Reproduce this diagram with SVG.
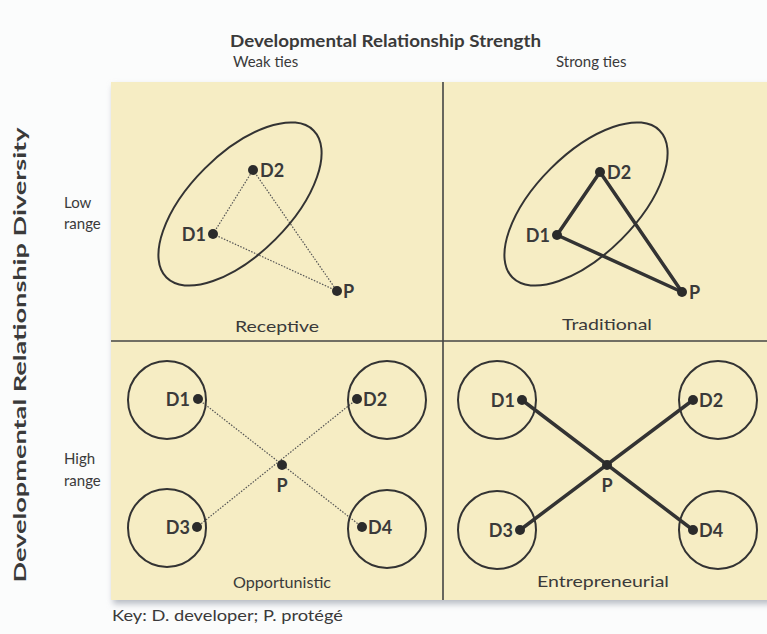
<svg xmlns="http://www.w3.org/2000/svg" width="767" height="634" viewBox="0 0 767 634">
<style>
text{font-family:Lato,"Open Sans","Liberation Sans",sans-serif;fill:#3a3a3a}
.t{font-weight:bold;font-size:17px}
.h{font-size:15px}
.n{font-weight:bold;font-size:18px}
.q{font-size:16px}
.div{stroke:#444;stroke-width:1.6;fill:none}
.ring{stroke:#333;stroke-width:2;fill:none}
.weak{stroke:#555;stroke-width:1.2;stroke-dasharray:1.5 1.5;fill:none}
.strong{stroke:#333;stroke-width:3.5;fill:none;stroke-linecap:round}
.dot{fill:#2b2b2b}
</style>
<defs>
<filter id="sh" x="-5%" y="-5%" width="110%" height="115%"><feGaussianBlur stdDeviation="3"/></filter>
</defs>
<rect width="767" height="634" fill="#fbfcfc"/>
<rect x="113" y="86" width="660" height="518" fill="#b8bcc4" filter="url(#sh)"/>
<rect x="111" y="82" width="660" height="518" fill="#f6edc4"/>
<g id="axes">
<text class="t" x="230" y="47" textLength="311" lengthAdjust="spacingAndGlyphs">Developmental Relationship Strength</text>
<text class="h" x="233" y="67">Weak ties</text>
<text class="h" x="556" y="67">Strong ties</text>
<text class="t" transform="translate(26,355) rotate(-90)" text-anchor="middle" textLength="455" lengthAdjust="spacingAndGlyphs">Developmental Relationship Diversity</text>
<text class="h" x="64" y="208">Low</text>
<text class="h" x="64" y="229">range</text>
<text class="h" x="64" y="464">High</text>
<text class="h" x="64" y="486">range</text>
<text class="h" x="112" y="621" textLength="231" lengthAdjust="spacingAndGlyphs">Key: D. developer;  P. protégé</text>
</g>
<g id="dividers">
<line class="div" x1="443" y1="82" x2="443" y2="600"/>
<line class="div" x1="111" y1="341" x2="767" y2="341"/>
</g>
<g id="connectors">
<line class="weak" x1="213" y1="234" x2="253" y2="170"/>
<line class="weak" x1="253" y1="170" x2="337" y2="291"/>
<line class="weak" x1="213" y1="234" x2="337" y2="291"/>
<line class="strong" x1="557" y1="235" x2="600" y2="172"/>
<line class="strong" x1="600" y1="172" x2="682" y2="292"/>
<line class="strong" x1="557" y1="235" x2="682" y2="292"/>
<line class="weak" x1="198" y1="399" x2="362" y2="527"/>
<line class="weak" x1="357" y1="399" x2="197" y2="527"/>
<line class="strong" x1="522" y1="400" x2="693" y2="530"/>
<line class="strong" x1="693" y1="400" x2="520" y2="530"/>
</g>
<g id="receptive">
<ellipse class="ring" cx="240" cy="204" rx="104" ry="50" transform="rotate(-45 240 204)"/>
<circle class="dot" cx="253" cy="170" r="5"/><text class="n" x="260" y="177">D2</text>
<circle class="dot" cx="213" cy="234" r="5"/><text class="n" x="206" y="241" text-anchor="end">D1</text>
<circle class="dot" cx="337" cy="291" r="5"/><text class="n" x="343" y="298">P</text>
<text class="q" x="277" y="332" text-anchor="middle" textLength="84" lengthAdjust="spacingAndGlyphs">Receptive</text>
</g>
<g id="traditional">
<ellipse class="ring" cx="586" cy="204" rx="104" ry="50" transform="rotate(-45 586 204)"/>
<circle class="dot" cx="600" cy="172" r="5"/><text class="n" x="607" y="179">D2</text>
<circle class="dot" cx="557" cy="235" r="5"/><text class="n" x="550" y="242" text-anchor="end">D1</text>
<circle class="dot" cx="682" cy="292" r="5"/><text class="n" x="689" y="299">P</text>
<text class="q" x="607" y="330" text-anchor="middle" textLength="90" lengthAdjust="spacingAndGlyphs">Traditional</text>
</g>
<g id="opportunistic">
<circle class="ring" cx="167" cy="400" r="39"/>
<circle class="ring" cx="387" cy="400" r="39"/>
<circle class="ring" cx="167" cy="528" r="39"/>
<circle class="ring" cx="387" cy="529" r="39"/>
<circle class="dot" cx="198" cy="399" r="5"/><text class="n" x="190" y="406" text-anchor="end">D1</text>
<circle class="dot" cx="357" cy="399" r="5"/><text class="n" x="363" y="406">D2</text>
<circle class="dot" cx="197" cy="527" r="5"/><text class="n" x="190" y="534" text-anchor="end">D3</text>
<circle class="dot" cx="362" cy="527" r="5"/><text class="n" x="368" y="534">D4</text>
<circle class="dot" cx="282" cy="465" r="5"/><text class="n" x="282" y="492" text-anchor="middle">P</text>
<text class="q" x="282" y="588" text-anchor="middle" textLength="98" lengthAdjust="spacingAndGlyphs">Opportunistic</text>
</g>
<g id="entrepreneurial">
<circle class="ring" cx="497" cy="400" r="39"/>
<circle class="ring" cx="718" cy="400" r="39"/>
<circle class="ring" cx="497" cy="530" r="39"/>
<circle class="ring" cx="718" cy="530" r="39"/>
<circle class="dot" cx="522" cy="400" r="5"/><text class="n" x="515" y="407" text-anchor="end">D1</text>
<circle class="dot" cx="693" cy="400" r="5"/><text class="n" x="699" y="407">D2</text>
<circle class="dot" cx="520" cy="530" r="5"/><text class="n" x="513" y="537" text-anchor="end">D3</text>
<circle class="dot" cx="693" cy="530" r="5"/><text class="n" x="699" y="537">D4</text>
<circle class="dot" cx="607" cy="465" r="5"/><text class="n" x="607" y="492" text-anchor="middle">P</text>
<text class="q" x="603" y="587" text-anchor="middle" textLength="132" lengthAdjust="spacingAndGlyphs">Entrepreneurial</text>
</g>
</svg>
